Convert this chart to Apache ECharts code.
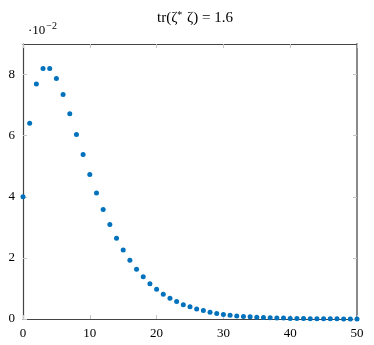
<!DOCTYPE html>
<html>
<head>
    <meta charset="utf-8">
    <title>tr scatter</title>
    <style>
        html, body, #chart {
            margin: 0;
            padding: 0;
            width: 374px;
            height: 345px;
            background: #fff;
            overflow: hidden;
        }
    </style>
</head>
<body>
    <div id="chart"></div>
    <script src="https://cdn.jsdelivr.net/npm/echarts@6/dist/echarts.min.js"></script>
    <script type="text/javascript">
        // values, in units of 10^-2
        var xValues = [];
        for (var i = 0; i <= 50; i++) xValues.push(i);
        var yValues = [
            4.00, 6.41, 7.69, 8.20, 8.20, 7.87, 7.35, 6.72, 6.04, 5.38,
            4.73, 4.12, 3.58, 3.09, 2.64, 2.26, 1.92, 1.63, 1.38, 1.15,
            0.97, 0.81, 0.68, 0.57, 0.47, 0.40, 0.33, 0.28, 0.22, 0.18,
            0.15, 0.12, 0.10, 0.08, 0.07, 0.06, 0.05, 0.04, 0.03, 0.03,
            0.02, 0.02, 0.015, 0.012, 0.010, 0.008, 0.006, 0.005, 0.004, 0.003,
            0.002
        ];
        var xTicks = [0, 10, 20, 30, 40, 50];
        var yTicks = [0, 2, 4, 6, 8];

        var points = xValues.map(function (x, i) { return [x, yValues[i]]; });

        var serif = '"Liberation Serif", "DejaVu Serif", serif';
        var frame = '#444';
        var tickColor = '#c4c4c4';

        var chart = echarts.init(document.getElementById('chart'));
        chart.setOption({
            animation: false,
            textStyle: { fontFamily: serif },
            title: {
                text: 'tr(ζ{sup|*} ζ) = 1.6',
                left: 190,
                top: 5,
                textAlign: 'center',
                textStyle: {
                    fontFamily: serif,
                    fontSize: 15,
                    fontWeight: 'normal',
                    color: '#000',
                    rich: {
                        sup: { fontFamily: serif, fontSize: 10, padding: [0, 1, 7, 0], color: '#000' }
                    }
                }
            },
            graphic: [{
                type: 'text',
                left: 28,
                top: 21,
                style: {
                    text: '·10{sup|−2}',
                    fontFamily: serif,
                    fontSize: 13,
                    fill: '#000',
                    rich: {
                        sup: { fontFamily: serif, fontSize: 10, padding: [0, 0, 9, 1], fill: '#000' }
                    }
                }
            }],
            grid: { left: 23, right: 17, top: 44, bottom: 26, containLabel: false },
            xAxis: [{
                type: 'value',
                min: 0,
                max: 50,
                interval: 10,
                axisLine: { show: true, onZero: false, lineStyle: { color: frame, width: 1.2 } },
                axisTick: { show: true, inside: true, length: 4, lineStyle: { color: tickColor } },
                axisLabel: { color: '#000', fontSize: 13, fontFamily: serif, margin: 8 },
                splitLine: { show: false }
            }, {
                type: 'value',
                position: 'top',
                min: 0,
                max: 50,
                interval: 10,
                axisLine: { show: true, onZero: false, lineStyle: { color: frame, width: 1.2 } },
                axisTick: { show: true, inside: true, length: 4, lineStyle: { color: tickColor } },
                axisLabel: { show: false },
                splitLine: { show: false }
            }],
            yAxis: [{
                type: 'value',
                min: 0,
                max: 9,
                axisLine: { show: true, onZero: false, lineStyle: { color: frame, width: 1.2 } },
                axisTick: { show: true, inside: true, length: 4, customValues: yTicks, lineStyle: { color: tickColor } },
                axisLabel: {
                    color: '#000', fontSize: 13, fontFamily: serif, margin: 8,
                    customValues: yTicks
                },
                splitLine: { show: false }
            }, {
                type: 'value',
                position: 'right',
                min: 0,
                max: 9,
                axisLine: { show: true, onZero: false, lineStyle: { color: '#8a8a8a', width: 2 } },
                axisTick: { show: true, inside: true, length: 4, customValues: yTicks, lineStyle: { color: tickColor } },
                axisLabel: { show: false },
                splitLine: { show: false }
            }],
            series: [{
                type: 'scatter',
                xAxisIndex: 0,
                yAxisIndex: 0,
                data: points,
                symbol: 'circle',
                symbolSize: 5,
                itemStyle: { color: '#0072BD', opacity: 1 },
                z: 10
            }]
        });
    </script>
</body>
</html>
